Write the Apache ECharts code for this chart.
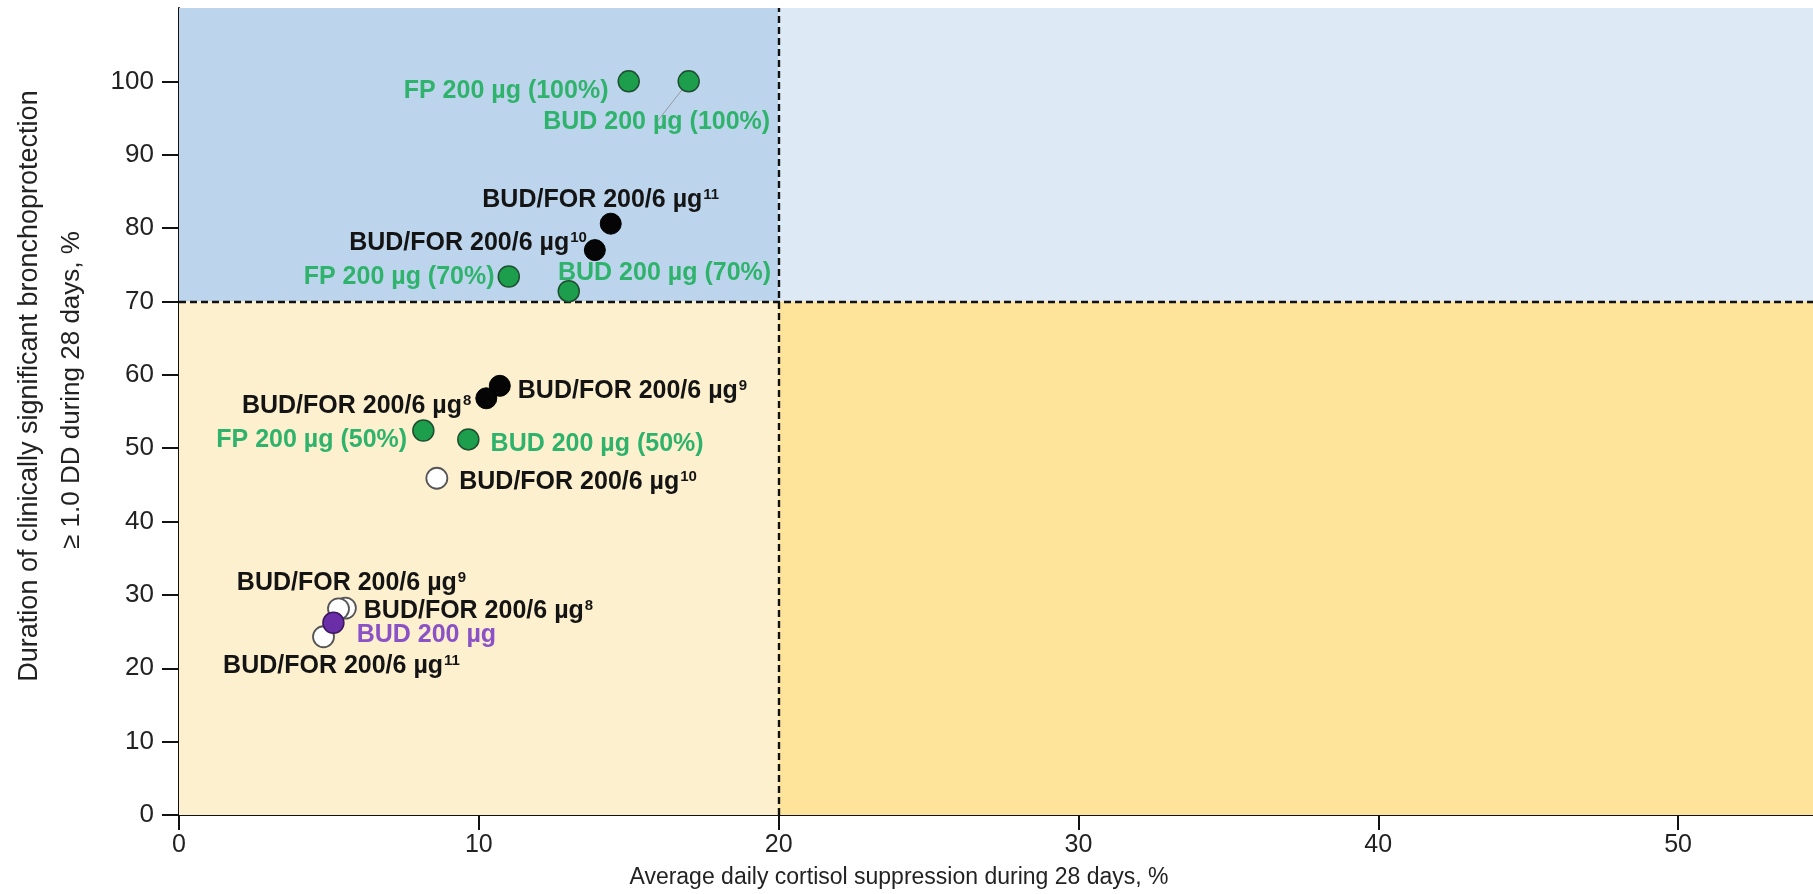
<!DOCTYPE html>
<html>
<head>
<meta charset="utf-8">
<script src="https://cdn.jsdelivr.net/npm/echarts@6/dist/echarts.min.js"></script>
<style>
html,body{margin:0;padding:0;background:#fff;}
#chart{width:1813px;height:894px;}
</style>
</head>
<body>
<div id="chart"></div>
<script>
// ---- data ----
const cortisolThreshold = 20;
const protectionThreshold = 70;
const xAxisMax = 54.5;
const yAxisMax = 110;
const xTicks = [0, 10, 20, 30, 40, 50];
const yTicks = [0, 10, 20, 30, 40, 50, 60, 70, 80, 90, 100];

const fpX = [15.0, 11.0, 8.15];
const fpY = [100, 73.4, 52.4];
const fpLabels = ['FP 200 µg (100%)', 'FP 200 µg (70%)', 'FP 200 µg (50%)'];

const budX = [17.0, 13.0, 9.65];
const budY = [100, 71.4, 51.2];
const budLabels = ['BUD 200 µg (100%)', 'BUD 200 µg (70%)', 'BUD 200 µg (50%)'];

const budForFilledX = [14.4, 13.87, 10.7, 10.25];
const budForFilledY = [80.6, 77.0, 58.5, 56.8];
const budForFilledRefs = ['11', '10', '9', '8'];

const budForOpenX = [5.55, 5.32, 8.6, 4.82];
const budForOpenY = [28.2, 28.1, 45.9, 24.3];
const budForOpenRefs = ['8', '9', '10', '11'];

const budAloneX = [5.15];
const budAloneY = [26.2];
const budAloneLabels = ['BUD 200 µg'];

const xTitle = 'Average daily cortisol suppression during 28 days, %';
const yTitle1 = 'Duration of clinically significant bronchoprotection';
const yTitle2 = '≥ 1.0 DD during 28 days, %';

// ---- label placement (style) ----
const fpPlace = [['left', [-4, 10]], ['left', [2, 1]], ['left', [0, 10]]];
const budPlace = [['bottom', [-32, 12]], ['right', [-27, -18]], ['right', [6, 5]]];
const filledPlace = [['top', [-10, 5]], ['left', [8, -7]], ['right', [2, 5]], ['left', [1, 8]]];
const openPlace = [['right', [2, 3]], ['top', [13, 3]], ['right', [6, 4]], ['bottom', [18, 0]]];
const alonePlace = [['right', [7, 12]]];

const FONT = "'Liberation Sans', Arial, sans-serif";
const GREEN_TXT = '#2fb36c';
const LBL = 25;

function buildData(xs, ys, place, extra) {
  return xs.map((x, i) => {
    const item = {value: [x, ys[i]], label: {position: place[i][0], offset: place[i][1]}};
    if (extra && extra[i]) Object.assign(item, extra[i]);
    return item;
  });
}
function richMain(color) {
  return {
    m: {fontSize: LBL, fontWeight: 'bold', color: color, fontFamily: FONT},
    s: {fontSize: 15, fontWeight: 'bold', color: color, fontFamily: FONT, verticalAlign: 'top', padding: [0, 0, 0, 1]}
  };
}

const chart = echarts.init(document.getElementById('chart'), null, {renderer: 'canvas'});

const option = {
  animation: false,
  backgroundColor: '#ffffff',
  grid: {left: 179, right: 0, top: 8, bottom: 79, containLabel: false},
  xAxis: {
    type: 'value', min: 0, max: xAxisMax, interval: 10,
    axisLine: {show: true, onZero: false, lineStyle: {color: '#111', width: 2}},
    axisTick: {show: true, length: 15, lineStyle: {color: '#111', width: 2}, customValues: xTicks},
    axisLabel: {customValues: xTicks, color: '#222', fontSize: 25, fontFamily: FONT, margin: 18},
    splitLine: {show: false}
  },
  yAxis: {
    type: 'value', min: 0, max: yAxisMax, interval: 10,
    axisLine: {show: true, onZero: false, lineStyle: {color: '#111', width: 2}},
    axisTick: {show: true, length: 17, lineStyle: {color: '#111', width: 2}, customValues: yTicks},
    axisLabel: {customValues: yTicks, color: '#222', fontSize: 26, fontFamily: FONT, margin: 25},
    splitLine: {show: false}
  },
  graphic: [
    {type: 'text', x: 899, y: 878, z: 100, style: {text: xTitle, fill: '#222', font: '23px ' + FONT, align: 'center', verticalAlign: 'middle'}},
    {type: 'text', x: 30, y: 386, rotation: Math.PI / 2, z: 100, style: {text: yTitle1, fill: '#222', font: '27px ' + FONT, align: 'center', verticalAlign: 'middle'}},
    {type: 'text', x: 72, y: 390, rotation: Math.PI / 2, z: 100, style: {text: yTitle2, fill: '#222', font: '26px ' + FONT, align: 'center', verticalAlign: 'middle'}}
  ],
  series: [
    {
      name: 'quadrants', type: 'scatter', data: [], z: 1,
      markArea: {
        silent: true,
        data: [
          [{coord: [0, protectionThreshold], itemStyle: {color: '#bcd5ec'}}, {coord: [cortisolThreshold, yAxisMax]}],
          [{coord: [cortisolThreshold, protectionThreshold], itemStyle: {color: '#dde9f5'}}, {coord: [xAxisMax, yAxisMax]}],
          [{coord: [0, 0], itemStyle: {color: '#fdf0cf'}}, {coord: [cortisolThreshold, protectionThreshold]}],
          [{coord: [cortisolThreshold, 0], itemStyle: {color: '#fde49a'}}, {coord: [xAxisMax, protectionThreshold]}]
        ]
      },
      markLine: {
        silent: true, symbol: 'none', label: {show: false},
        lineStyle: {color: '#111', type: [7, 4], width: 2.4},
        data: [{xAxis: cortisolThreshold}, {yAxis: protectionThreshold}]
      }
    },
    {
      name: 'FP', type: 'scatter', z: 5, symbolSize: 21,
      itemStyle: {color: '#1c9e4c', borderColor: '#1d4f30', borderWidth: 1.5, opacity: 1},
      label: {show: true, formatter: p => '{m|' + fpLabels[p.dataIndex] + '}', rich: richMain(GREEN_TXT)},
      data: buildData(fpX, fpY, fpPlace)
    },
    {
      name: 'BUD', type: 'scatter', z: 5, symbolSize: 21,
      itemStyle: {color: '#1c9e4c', borderColor: '#1d4f30', borderWidth: 1.5, opacity: 1},
      label: {show: true, formatter: p => '{m|' + budLabels[p.dataIndex] + '}', rich: richMain(GREEN_TXT)},
      labelLine: {show: false, lineStyle: {color: '#9a9a9a', width: 1}},
      data: buildData(budX, budY, budPlace, [{labelLine: {show: true, lineStyle: {color: '#9a9a9a', width: 1}}}])
    },
    {
      name: 'BUD/FOR filled', type: 'scatter', z: 5, symbolSize: 21,
      itemStyle: {color: '#050505', borderColor: '#000', borderWidth: 1, opacity: 1},
      label: {show: true, formatter: p => '{m|BUD/FOR 200/6 µg}{s|' + budForFilledRefs[p.dataIndex] + '}', rich: richMain('#141414')},
      data: buildData(budForFilledX, budForFilledY, filledPlace)
    },
    {
      name: 'BUD/FOR open', type: 'scatter', z: 5, symbolSize: 21,
      itemStyle: {color: '#ffffff', borderColor: '#555', borderWidth: 1.8, opacity: 1},
      label: {show: true, formatter: p => '{m|BUD/FOR 200/6 µg}{s|' + budForOpenRefs[p.dataIndex] + '}', rich: richMain('#141414')},
      data: buildData(budForOpenX, budForOpenY, openPlace)
    },
    {
      name: 'BUD alone', type: 'scatter', z: 6, symbolSize: 21,
      itemStyle: {color: '#6a2ea6', borderColor: '#3b1760', borderWidth: 1.5, opacity: 1},
      label: {show: true, formatter: p => '{m|' + budAloneLabels[p.dataIndex] + '}', rich: richMain('#8a52c6')},
      data: buildData(budAloneX, budAloneY, alonePlace)
    }
  ]
};
chart.setOption(option);
</script>
</body>
</html>
